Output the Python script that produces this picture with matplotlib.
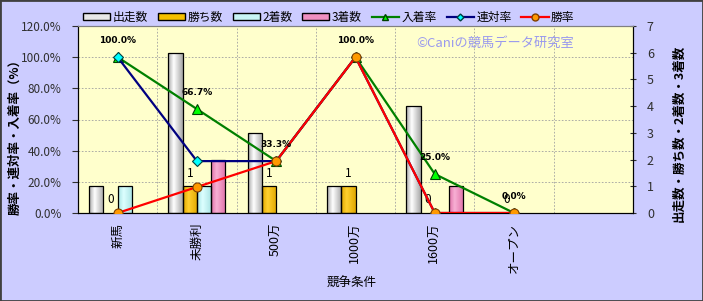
import numpy as np
import matplotlib
matplotlib.use('Agg')
import matplotlib.pyplot as plt
from matplotlib.lines import Line2D
from matplotlib.patches import Patch, Rectangle
from matplotlib.colors import LinearSegmentedColormap

plt.rcParams['font.family'] = ['Noto Sans CJK JP', 'DejaVu Sans']

categories = ['新馬', '未勝利', '500万', '1000万', '1600万', 'オープン', '']
starts = [1, 6, 3, 1, 4, 0]
wins = [0, 1, 1, 1, 0, 0]
seconds = [1, 1, 0, 0, 0, 0]
thirds = [0, 2, 0, 0, 1, 0]
place_rate = [100.0, 66.7, 33.3, 100.0, 25.0, 0.0]
rentai_rate = [100.0, 33.3, 33.3, 100.0, 0.0, 0.0]
win_rate = [0.0, 16.7, 33.3, 100.0, 0.0, 0.0]

BG = '#CCCCFF'
PLOT_BG = '#FFFFCC'
W = 0.18


def shaded_bars(ax, x, heights, edge, mid):
    bars = ax.bar(x, heights, W, facecolor='none', edgecolor='black', linewidth=0.9, zorder=3)
    cmap = LinearSegmentedColormap.from_list('shade', [(0, edge), (0.38, mid), (1, edge)])
    grad = np.linspace(0, 1, 64).reshape(1, -1)
    for b in bars:
        if b.get_height() <= 0:
            b.set_linewidth(0)
            continue
        im = ax.imshow(grad, extent=[b.get_x(), b.get_x() + b.get_width(), 0, b.get_height()],
                       cmap=cmap, aspect='auto', zorder=2.5, interpolation='bilinear')
        im.set_clip_path(b)
    return bars


fig = plt.figure(figsize=(7.03, 3.01), dpi=100, facecolor=BG)
ax2 = fig.add_axes([78 / 703, 1 - 213 / 301, 555 / 703, 187 / 301])
ax = ax2.twinx()
ax.set_zorder(ax2.get_zorder() + 1)
ax.patch.set_visible(False)
ax2.set_facecolor(PLOT_BG)

x = np.arange(len(starts))

# grid (drawn on the bar axis so it stays behind the bars)
for v in range(20, 121, 20):
    ax2.axhline(v / 120 * 7, color='#A0A0A0', lw=0.6, ls=(0, (2, 2)), zorder=1)
for i in range(1, len(categories)):
    ax2.axvline(i - 0.5, color='#A0A0A0', lw=0.6, ls=(0, (2, 2)), zorder=1)

shaded_bars(ax2, x - 1.5 * W, starts, '#A8A8A8', '#FFFFFF')
win_bars = shaded_bars(ax2, x - 0.5 * W, wins, '#E0A800', '#FFD030')
shaded_bars(ax2, x + 0.5 * W, seconds, '#A8E4E4', '#DDFFFF')
shaded_bars(ax2, x + 1.5 * W, thirds, '#E070A8', '#F8B0D4')

for b, v in zip(win_bars, wins):
    ax2.annotate(str(v), (b.get_x() + b.get_width() / 2, v), xytext=(0, 9.5),
                 textcoords='offset points', ha='center', va='center', fontsize=8.5, zorder=6)

ax2.set_xlim(-0.5, len(categories) - 0.5)
ax2.set_ylim(0, 7)
ax.set_ylim(0, 120)

ax.plot(x, place_rate, color='#008000', lw=1.6, marker='^', ms=7, mfc='#00FF00', mec='#004000', mew=0.8, zorder=4)
ax.plot(x, rentai_rate, color='#000080', lw=1.6, marker='D', ms=5, mfc='#00FFFF', mec='#004040', mew=0.8, zorder=5)
ax.plot(x, win_rate, color='#FF0000', lw=1.6, marker='o', ms=6.5, mfc='#FF9900', mec='#804000', mew=0.8, zorder=6)

for xi, v in zip(x, place_rate):
    ax.annotate('%.1f%%' % v, (xi, v), xytext=(0, 12), textcoords='offset points',
                ha='center', va='center', fontsize=6.5, fontweight='bold', family='DejaVu Sans', zorder=7)

# axes / ticks
ax2.set_xticks(np.arange(len(categories)))
ax2.set_xticklabels(categories, rotation=90, fontsize=9)
ax2.tick_params(axis='x', length=0, pad=7)
ax2.yaxis.tick_right()
ax2.set_yticks(range(0, 8))
ax2.tick_params(axis='y', labelsize=9, length=4, pad=8, direction='inout', colors='#303030')
ax.yaxis.tick_left()
ax.set_yticks(range(0, 121, 20))
ax.set_yticklabels(['%.1f%%' % v for v in range(0, 121, 20)])
ax.tick_params(axis='y', labelsize=8.5, length=4, pad=8, direction='out', colors='#303030')

for a in (ax, ax2):
    for s in ('left', 'bottom', 'right'):
        a.spines[s].set_color('black')
    a.spines['top'].set_color('#808080')

fig.text(15 / 703, 1 - 134 / 301, '勝率・連対率・入着率（%）', rotation=90, ha='center', va='center',
         fontsize=9, fontweight='bold')
fig.text(679 / 703, 1 - 133 / 301, '出走数・勝ち数・2着数・3着数', rotation=90, ha='center', va='center',
         fontsize=9, fontweight='bold')
fig.text(352 / 703, 1 - 283 / 301, '競争条件', ha='center', va='center', fontsize=9)
fig.text(495 / 703, 1 - 43 / 301, '©Caniの競馬データ研究室', ha='center', va='center',
         fontsize=9.5, color='#9999EE')

handles = [Patch(facecolor='#E8E8E8', edgecolor='black', label='出走数'),
           Patch(facecolor='#F5C000', edgecolor='black', label='勝ち数'),
           Patch(facecolor='#C8F4F4', edgecolor='black', label='2着数'),
           Patch(facecolor='#F090C0', edgecolor='black', label='3着数'),
           Line2D([0], [0], color='#008000', lw=1.6, marker='^', ms=5, mfc='#00FF00', mec='#004000', label='入着率'),
           Line2D([0], [0], color='#000080', lw=1.6, marker='D', ms=3.5, mfc='#00FFFF', mec='#004040', label='連対率'),
           Line2D([0], [0], color='#FF0000', lw=1.6, marker='o', ms=5, mfc='#FF9900', mec='#804000', label='勝率')]
fig.legend(handles=handles, loc='center left', bbox_to_anchor=(83 / 703, 1 - 17 / 301), ncol=7,
           frameon=False, fontsize=8.5, handlelength=2.3, handleheight=0.6, handletextpad=0.2,
           columnspacing=0.85, borderpad=0, borderaxespad=0)

fig.add_artist(Rectangle((0, 0), 1, 1, transform=fig.transFigure, fill=False,
                         edgecolor='#404040', linewidth=2))

plt.savefig('out.png', dpi=100, facecolor=BG)
